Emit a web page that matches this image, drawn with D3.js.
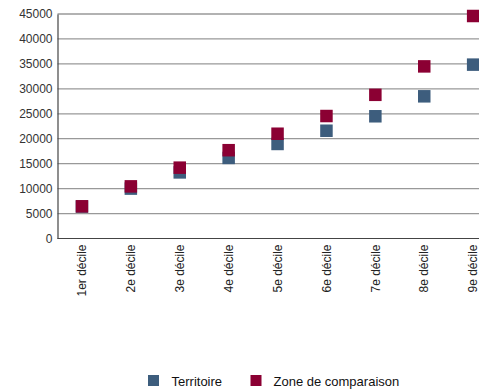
<!DOCTYPE html>
<html><head><meta charset="utf-8">
<script src="https://cdn.jsdelivr.net/npm/d3@7"></script>
<style>body{margin:0;background:#fff;overflow:hidden}svg{display:block;font-family:"Liberation Sans",Arial,sans-serif}</style>
</head><body><svg id="c" width="479" height="390"></svg>
<script>
const categories = ["1er décile","2e décile","3e décile","4e décile","5e décile","6e décile","7e décile","8e décile","9e décile"];
const territoire = [6400, 10000, 13250, 16150, 18950, 21600, 24500, 28500, 34850];
const zone = [6450, 10450, 14200, 17700, 21000, 24550, 28800, 34500, 44600];
const yTicks = [0,5000,10000,15000,20000,25000,30000,35000,40000,45000];
const seriesNames = ["Territoire","Zone de comparaison"];
const colors = ["#3d5d7d","#8b0033"];

const svg = d3.select("#c");
const x = d3.scaleBand().domain(categories).range([57.5, 57.5 + 9*48.9]);
const y = d3.scaleLinear().domain([0,45000]).range([238.5, 14]);

const g = svg.append("g");
g.selectAll("line.grid").data(yTicks.filter(d=>d>0)).join("line")
  .attr("x1",57.5).attr("x2",479).attr("y1",d=>y(d)).attr("y2",d=>y(d))
  .attr("stroke",(d)=>d===45000?"#666":"#999").attr("stroke-width",1.2);

const yAxis = svg.append("g").attr("transform","translate(57.5,0)")
  .call(d3.axisLeft(y).tickValues(yTicks).tickSize(0).tickPadding(5).tickFormat(d3.format("d")));
yAxis.select(".domain").attr("stroke","#444").attr("stroke-width",1.2);
yAxis.selectAll("text").attr("font-size",12).attr("fill","#333").attr("font-family","Liberation Sans, Arial, sans-serif");

const xAxis = svg.append("g").attr("transform","translate(0,238.5)")
  .call(d3.axisBottom(x).tickSize(0));
xAxis.select(".domain").attr("stroke","#444").attr("stroke-width",1.2).attr("d","M57.5,0H479");
xAxis.selectAll("text").attr("font-size",12).attr("fill","#222")
  .attr("font-family","Liberation Sans, Arial, sans-serif")
  .attr("text-anchor","end").attr("transform","rotate(-90)")
  .attr("x",-6).attr("y",0).attr("dy","0.35em");

const s = 12.5;
[territoire, zone].forEach((vals,i)=>{
  svg.append("g").selectAll("rect").data(vals).join("rect")
    .attr("x",(d,j)=>x(categories[j])+x.bandwidth()/2 - s/2)
    .attr("y",d=>y(d)-s/2).attr("width",s).attr("height",s)
    .attr("fill",colors[i]);
});

const leg = svg.append("g");
const legX = [148, 250.5], textX = [171.5, 273.5];
seriesNames.forEach((n,i)=>{
  leg.append("rect").attr("x",legX[i]).attr("y",375).attr("width",11).attr("height",11).attr("fill",colors[i]);
  leg.append("text").attr("x",textX[i]).attr("y",385.5).attr("font-size",13).attr("fill","#111").text(n);
});
</script></body></html>
